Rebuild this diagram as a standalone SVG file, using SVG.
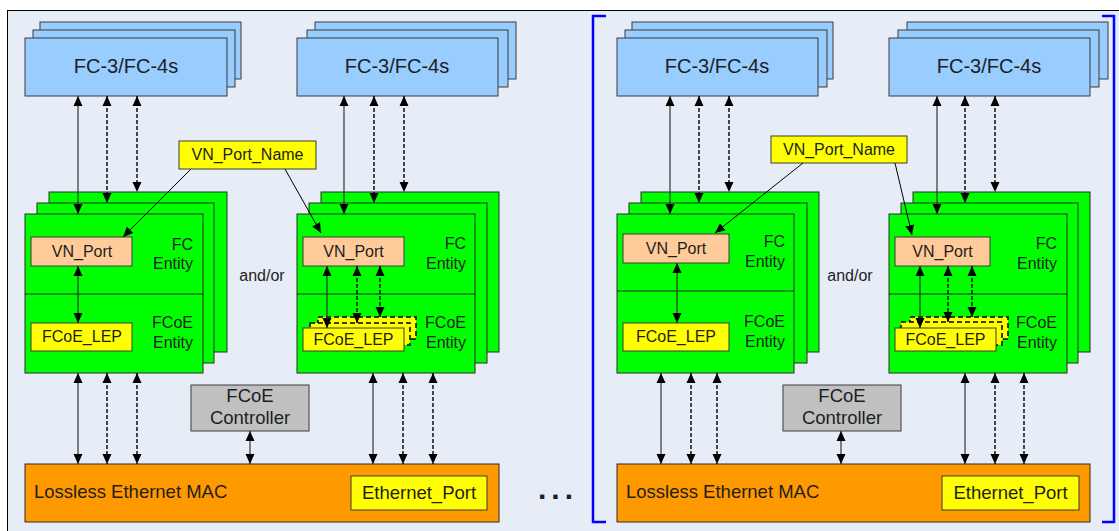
<svg xmlns="http://www.w3.org/2000/svg" width="1119" height="531" viewBox="0 0 1119 531">
<defs>
<marker id="ah" viewBox="0 0 10 10" refX="10" refY="5" markerWidth="10" markerHeight="10" markerUnits="userSpaceOnUse" orient="auto-start-reverse"><path d="M0,0.5 L10,5 L0,9.5 z" fill="#000"/></marker>
</defs>
<style>
text{font-family:"Liberation Sans",Arial,sans-serif;fill:#1e1e1e}
.fc{fill:#99CCFF;stroke:#3a3a3a;stroke-width:1}
.gr{fill:#00FF00;stroke:#2a2a2a;stroke-width:1}
.vn{fill:#FFCC99;stroke:#3a3a3a;stroke-width:1}
.ye{fill:#FFFF00;stroke:#3a3a3a;stroke-width:1}
.yd{fill:#FFFF00;stroke:#000;stroke-width:1.5;stroke-dasharray:5,3}
.or{fill:#FF9900;stroke:#2a2a2a;stroke-width:1}
.gy{fill:#C0C0C0;stroke:#3a3a3a;stroke-width:1}
.t20{font-size:20px;text-anchor:middle}
.t16{font-size:16px}
.c{text-anchor:middle}
.r{text-anchor:end}
.t18{font-size:18.5px}
.s{stroke:#333;stroke-width:1.2;fill:none;marker-start:url(#ah);marker-end:url(#ah)}
.d{stroke:#000;stroke-width:1.4;stroke-dasharray:4,2;fill:none;marker-start:url(#ah);marker-end:url(#ah)}
.l{stroke:#000;stroke-width:1;fill:none;marker-end:url(#ah)}
.br{stroke:#0000FF;stroke-width:2.5;fill:none}
</style>
<rect x="7.5" y="10.5" width="1120" height="530" fill="#E7EDF7" stroke="#000" stroke-width="1"/>

<g id="fc34-a">
<rect class="fc" x="40" y="22" width="201" height="57"/>
<rect class="fc" x="33" y="30" width="202" height="57"/>
<rect class="fc" x="25" y="38" width="202" height="58"/>
<text class="t20" x="126" y="73">FC-3/FC-4s</text>
</g>
<g id="fc34-b">
<rect class="fc" x="315" y="22" width="201" height="57"/>
<rect class="fc" x="307" y="30" width="201" height="57"/>
<rect class="fc" x="297" y="38" width="201" height="58"/>
<text class="t20" x="397" y="73">FC-3/FC-4s</text>
</g>
<g id="fc34-c">
<rect class="fc" x="632" y="22" width="201" height="57"/>
<rect class="fc" x="625" y="30" width="202" height="57"/>
<rect class="fc" x="617" y="38" width="201" height="58"/>
<text class="t20" x="717" y="73">FC-3/FC-4s</text>
</g>
<g id="fc34-d">
<rect class="fc" x="907" y="22" width="201" height="57"/>
<rect class="fc" x="898" y="30" width="201" height="57"/>
<rect class="fc" x="889" y="38" width="201" height="58"/>
<text class="t20" x="989" y="73">FC-3/FC-4s</text>
</g>

<g id="entity-a">
<rect class="gr" x="49" y="192" width="178" height="160"/>
<rect class="gr" x="37" y="203" width="177" height="160"/>
<rect class="gr" x="25" y="214" width="178" height="159"/>
<line x1="25" y1="294" x2="203" y2="294" stroke="#222" stroke-width="1"/>
<text class="t16 r" x="193" y="250">FC</text>
<text class="t16 r" x="193" y="269">Entity</text>
<text class="t16 r" x="193" y="328">FCoE</text>
<text class="t16 r" x="193" y="348">Entity</text>
</g>
<g id="vnport-a"><rect class="vn" x="31" y="237" width="101" height="29"/><text class="t16 c" x="82" y="257">VN_Port</text></g>
<g id="lep-a"><rect class="ye" x="31" y="323" width="101" height="28"/><text class="t16 c" x="82" y="342">FCoE_LEP</text></g>

<g id="entity-b">
<rect class="gr" x="321" y="192" width="178" height="160"/>
<rect class="gr" x="309" y="203" width="178" height="160"/>
<rect class="gr" x="297" y="214" width="178" height="159"/>
<line x1="297" y1="294" x2="475" y2="294" stroke="#222" stroke-width="1"/>
<text class="t16 r" x="466" y="249">FC</text>
<text class="t16 r" x="466" y="269">Entity</text>
<text class="t16 r" x="466" y="328">FCoE</text>
<text class="t16 r" x="466" y="348">Entity</text>
</g>
<g id="vnport-b"><rect class="vn" x="303" y="237" width="101" height="29"/><text class="t16 c" x="353.5" y="257">VN_Port</text></g>
<g id="lep-b">
<rect class="yd" x="318" y="317" width="98" height="22"/>
<rect class="yd" x="310" y="323" width="100" height="22"/>
<rect class="ye" x="303" y="328" width="101" height="23"/>
<text class="t16 c" x="353.5" y="345">FCoE_LEP</text>
</g>

<g id="entity-c">
<rect class="gr" x="641" y="192" width="178" height="160"/>
<rect class="gr" x="629" y="203" width="178" height="160"/>
<rect class="gr" x="617" y="214" width="177" height="159"/>
<line x1="617" y1="291" x2="794" y2="291" stroke="#222" stroke-width="1"/>
<text class="t16 r" x="785" y="247">FC</text>
<text class="t16 r" x="785" y="267">Entity</text>
<text class="t16 r" x="785" y="327">FCoE</text>
<text class="t16 r" x="785" y="347">Entity</text>
</g>
<g id="vnport-c"><rect class="vn" x="623" y="234" width="106" height="29"/><text class="t16 c" x="676" y="254">VN_Port</text></g>
<g id="lep-c"><rect class="ye" x="623" y="323" width="106" height="28"/><text class="t16 c" x="676" y="342">FCoE_LEP</text></g>

<g id="entity-d">
<rect class="gr" x="913" y="192" width="177" height="160"/>
<rect class="gr" x="901" y="203" width="177" height="160"/>
<rect class="gr" x="889" y="214" width="178" height="159"/>
<line x1="889" y1="294" x2="1067" y2="294" stroke="#222" stroke-width="1"/>
<text class="t16 r" x="1057" y="249">FC</text>
<text class="t16 r" x="1057" y="269">Entity</text>
<text class="t16 r" x="1057" y="328">FCoE</text>
<text class="t16 r" x="1057" y="348">Entity</text>
</g>
<g id="vnport-d"><rect class="vn" x="895" y="237" width="95" height="29"/><text class="t16 c" x="942.5" y="257">VN_Port</text></g>
<g id="lep-d">
<rect class="yd" x="910" y="317" width="98" height="22"/>
<rect class="yd" x="901" y="322" width="101" height="23"/>
<rect class="ye" x="895" y="328" width="101" height="23"/>
<text class="t16 c" x="945.5" y="345">FCoE_LEP</text>
</g>

<g id="andor-a"><text class="t16 c" x="262" y="281">and/or</text></g>
<g id="andor-b"><text class="t16 c" x="850" y="281">and/or</text></g>

<g id="vnname-a"><rect class="ye" x="179" y="141" width="137" height="28"/><text class="t16 c" x="247.5" y="160">VN_Port_Name</text></g>
<g id="vnname-b"><rect class="ye" x="771" y="136" width="136" height="27"/><text class="t16 c" x="839" y="155">VN_Port_Name</text></g>

<g id="ctrl-a"><rect class="gy" x="191" y="385" width="118" height="46"/><text class="t18 c" x="250" y="402">FCoE</text><text class="t18 c" x="250" y="424">Controller</text></g>
<g id="ctrl-b"><rect class="gy" x="783" y="385" width="118" height="46"/><text class="t18 c" x="842" y="402">FCoE</text><text class="t18 c" x="842" y="424">Controller</text></g>

<g id="mac-a"><rect class="or" x="25" y="464" width="474" height="58"/><text class="t18" x="34" y="498">Lossless Ethernet MAC</text>
<rect class="ye" x="351" y="476" width="136" height="34"/><text class="t18 c" x="419" y="499">Ethernet_Port</text></g>
<g id="mac-b"><rect class="or" x="617" y="464" width="473" height="58"/><text class="t18" x="626" y="498">Lossless Ethernet MAC</text>
<rect class="ye" x="942" y="476" width="137" height="34"/><text class="t18 c" x="1010.5" y="499">Ethernet_Port</text></g>

<g id="ellipsis"><text x="538" y="499" style="font-size:30px;font-weight:bold;letter-spacing:5px">...</text></g>

<g id="bracket">
<path class="br" d="M606,16 H593 V522 H606"/>
<path class="br" d="M1102,16 H1114 V522 H1102"/>
</g>

<g id="connectors">
<line class="s" x1="78" y1="96" x2="78" y2="214"/>
<line class="d" x1="107" y1="96" x2="107" y2="203"/>
<line class="d" x1="137" y1="96" x2="137" y2="192"/>
<line class="s" x1="344" y1="96" x2="344" y2="214"/>
<line class="d" x1="374" y1="96" x2="374" y2="203"/>
<line class="d" x1="404" y1="96" x2="404" y2="192"/>
<line class="s" x1="670" y1="96" x2="670" y2="214"/>
<line class="d" x1="699" y1="96" x2="699" y2="203"/>
<line class="d" x1="729" y1="96" x2="729" y2="192"/>
<line class="s" x1="937" y1="96" x2="937" y2="214"/>
<line class="d" x1="965" y1="96" x2="965" y2="203"/>
<line class="d" x1="995" y1="96" x2="995" y2="192"/>

<line class="s" x1="78" y1="266" x2="78" y2="323"/>
<line class="s" x1="327" y1="266" x2="327" y2="328"/>
<line class="d" x1="357" y1="266" x2="357" y2="323"/>
<line class="d" x1="380" y1="266" x2="380" y2="317"/>
<line class="s" x1="677" y1="263" x2="677" y2="323"/>
<line class="s" x1="920" y1="266" x2="920" y2="328"/>
<line class="d" x1="948" y1="266" x2="948" y2="322"/>
<line class="d" x1="972" y1="266" x2="972" y2="317"/>

<line class="l" x1="191" y1="169" x2="123" y2="237"/>
<line class="l" x1="285" y1="169" x2="321" y2="233"/>
<line class="l" x1="803" y1="163" x2="715" y2="233"/>
<line class="l" x1="895" y1="163" x2="912" y2="235"/>

<line class="s" x1="78" y1="373" x2="78" y2="464"/>
<line class="d" x1="107" y1="373" x2="107" y2="464"/>
<line class="d" x1="137" y1="373" x2="137" y2="464"/>
<line class="s" x1="373" y1="373" x2="373" y2="464"/>
<line class="d" x1="403" y1="373" x2="403" y2="464"/>
<line class="d" x1="433" y1="373" x2="433" y2="464"/>
<line class="s" x1="661" y1="373" x2="661" y2="464"/>
<line class="d" x1="691" y1="373" x2="691" y2="464"/>
<line class="d" x1="717" y1="373" x2="717" y2="464"/>
<line class="s" x1="965" y1="373" x2="965" y2="464"/>
<line class="d" x1="995" y1="373" x2="995" y2="464"/>
<line class="d" x1="1024" y1="373" x2="1024" y2="464"/>
<line class="s" x1="250" y1="431" x2="250" y2="464"/>
<line class="s" x1="841" y1="431" x2="841" y2="464"/>
</g>
</svg>
